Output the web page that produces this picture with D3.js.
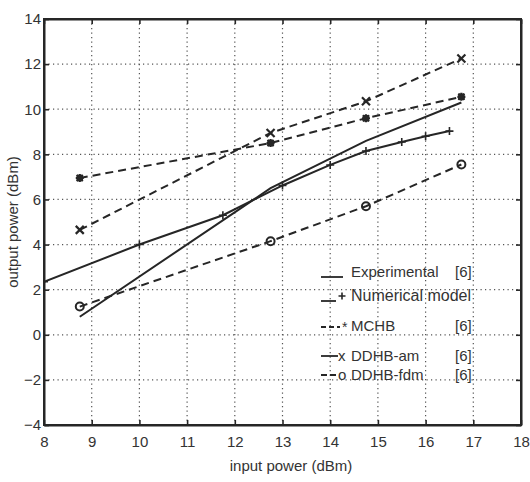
<!DOCTYPE html>
<html>
<head>
<meta charset="utf-8">
<script src="https://cdn.jsdelivr.net/npm/d3@7"></script>
<style>
  html, body { margin: 0; padding: 0; background: #fff; }
  svg { display: block; }
  text { font-family: "Liberation Sans", Arial, Helvetica, sans-serif; fill: #333; }
</style>
</head>
<body>
<svg id="chart" width="530" height="482"></svg>
<script>
// Output power versus input power: measurement, numerical model and three harmonic-balance variants
const xTicks = [8, 9, 10, 11, 12, 13, 14, 15, 16, 17, 18];
const yTicks = [-4, -2, 0, 2, 4, 6, 8, 10, 12, 14];

const experimentalX = [8.75, 12.75, 14.75, 16.75];
const experimentalY = [0.8, 6.5, 8.6, 10.3];

const numericalX = [8, 10, 11.75, 13, 14, 14.75, 15.5, 16, 16.5];
const numericalY = [2.35, 4.0, 5.3, 6.62, 7.53, 8.15, 8.55, 8.8, 9.03];

const harmonicX = [8.75, 12.75, 14.75, 16.75];
const mchbY = [6.95, 8.5, 9.6, 10.55];
const ddhbAmY = [4.65, 8.95, 10.35, 12.25];
const ddhbFdmY = [1.25, 4.15, 5.7, 7.55];

const legendLabels = ["Experimental", "Numerical model", "MCHB", "DDHB-am", "DDHB-fdm"];
const legendRefs = ["[6]", "", "[6]", "[6]", "[6]"];

const svg = d3.select("#chart");
const ink = "#262626";

const x = d3.scaleLinear().domain([8, 18]).range([44, 521]);
const y = d3.scaleLinear().domain([-4, 14]).range([425, 19]);

svg.append("defs").append("clipPath").attr("id", "plotClip")
  .append("rect")
  .attr("x", x(8)).attr("y", y(14))
  .attr("width", x(18) - x(8)).attr("height", y(-4) - y(14));

// dotted grid
const grid = svg.append("g").attr("stroke", "#555").attr("stroke-width", 1.2)
  .attr("stroke-dasharray", "1.2,3.3");
grid.selectAll("line.gx").data(xTicks.slice(1, -1)).join("line")
  .attr("x1", d => x(d)).attr("x2", d => x(d))
  .attr("y1", y(14)).attr("y2", y(-4));
grid.selectAll("line.gy").data(yTicks.slice(1, -1)).join("line")
  .attr("y1", d => y(d)).attr("y2", d => y(d))
  .attr("x1", x(8)).attr("x2", x(18));

// axes with inward ticks on all four sides
const tickLen = 5;
svg.append("g").attr("transform", `translate(0,${y(-4)})`)
  .call(d3.axisBottom(x).tickValues(xTicks).tickSizeInner(-tickLen).tickSizeOuter(0).tickPadding(8))
  .call(g => g.selectAll("text").attr("font-size", 15).attr("dy", "0.9em"));
svg.append("g").attr("transform", `translate(0,${y(14)})`)
  .call(d3.axisTop(x).tickValues(xTicks).tickSizeInner(-tickLen).tickSizeOuter(0).tickFormat(""));
svg.append("g").attr("transform", `translate(${x(8)},0)`)
  .call(d3.axisLeft(y).tickValues(yTicks).tickSizeInner(-tickLen).tickSizeOuter(0).tickPadding(3)
    .tickFormat(d => d < 0 ? "\u2212" + Math.abs(d) : d))
  .call(g => g.selectAll("text").attr("font-size", 15));
svg.append("g").attr("transform", `translate(${x(18)},0)`)
  .call(d3.axisRight(y).tickValues(yTicks).tickSizeInner(-tickLen).tickSizeOuter(0).tickFormat(""));
svg.selectAll(".domain").attr("stroke", ink).attr("stroke-width", 2);
svg.selectAll(".tick line").attr("stroke", ink).attr("stroke-width", 1.6);
svg.selectAll(".tick text").attr("fill", "#333");

// frame
svg.append("rect")
  .attr("x", x(8)).attr("y", y(14))
  .attr("width", x(18) - x(8)).attr("height", y(-4) - y(14))
  .attr("fill", "none").attr("stroke", ink).attr("stroke-width", 2);

// axis titles
svg.append("text").attr("x", 291).attr("y", 471).attr("text-anchor", "middle")
  .attr("font-size", 15).text("input power (dBm)");
svg.append("text").attr("transform", `translate(18,${(y(14) + y(-4)) / 2}) rotate(-90)`)
  .attr("text-anchor", "middle").attr("font-size", 15).text("output power (dBm)");

const plot = svg.append("g").attr("clip-path", "url(#plotClip)");
const line = d3.line().x(d => x(d[0])).y(d => y(d[1]));
const dash = "8,5";

function series(xs, ys, dashed) {
  const pts = xs.map((v, i) => [v, ys[i]]);
  plot.append("path").datum(pts).attr("d", line)
    .attr("fill", "none").attr("stroke", ink).attr("stroke-width", 2)
    .attr("stroke-dasharray", dashed ? dash : null);
  return pts;
}

// markers
function plus(g, cx, cy, r) {
  g.append("path").attr("d", `M${cx - r},${cy}H${cx + r}M${cx},${cy - r}V${cy + r}`)
    .attr("stroke", ink).attr("stroke-width", 1.6);
}
function cross(g, cx, cy, r) {
  g.append("path").attr("d", `M${cx - r},${cy - r}L${cx + r},${cy + r}M${cx - r},${cy + r}L${cx + r},${cy - r}`)
    .attr("stroke", ink).attr("stroke-width", 2.2);
}
function star(g, cx, cy, r) {
  const d = r * 0.75;
  g.append("path").attr("d",
    `M${cx - r},${cy}H${cx + r}M${cx},${cy - r}V${cy + r}M${cx - d},${cy - d}L${cx + d},${cy + d}M${cx - d},${cy + d}L${cx + d},${cy - d}`)
    .attr("stroke", ink).attr("stroke-width", 2.2);
  g.append("rect").attr("x", cx - r * 0.8).attr("y", cy - r * 0.8)
    .attr("width", r * 1.6).attr("height", r * 1.6).attr("fill", ink);
}
function ring(g, cx, cy, r) {
  g.append("circle").attr("cx", cx).attr("cy", cy).attr("r", r)
    .attr("fill", "none").attr("stroke", ink).attr("stroke-width", 2);
}

series(experimentalX, experimentalY, false);
series(numericalX, numericalY, false).forEach(p => plus(plot, x(p[0]), y(p[1]), 4));
series(harmonicX, mchbY, true).forEach(p => star(plot, x(p[0]), y(p[1]), 4));
series(harmonicX, ddhbAmY, true).forEach(p => cross(plot, x(p[0]), y(p[1]), 4));
series(harmonicX, ddhbFdmY, true).forEach(p => ring(plot, x(p[0]), y(p[1]), 4));

// legend
const lg = svg.append("g");
const rows = [277, 301, 331, 361, 380];
const textX = 351;
const refX = 455;

// Experimental: plain line
lg.append("line").attr("x1", 321).attr("x2", 343).attr("y1", rows[0]).attr("y2", rows[0])
  .attr("stroke", ink).attr("stroke-width", 1.8);
// Numerical model: line with +
lg.append("line").attr("x1", 321).attr("x2", 336).attr("y1", rows[1]).attr("y2", rows[1])
  .attr("stroke", ink).attr("stroke-width", 1.8);
plus(lg, 342, rows[1] - 5, 3.5);
// MCHB: dashed with *
lg.append("line").attr("x1", 321).attr("x2", 340).attr("y1", rows[2] - 4).attr("y2", rows[2] - 4)
  .attr("stroke", ink).attr("stroke-width", 1.8).attr("stroke-dasharray", "5,3");
lg.append("text").attr("x", 342).attr("y", rows[2] + 1).attr("font-size", 14).text("*");
// DDHB-am: line with x
lg.append("line").attr("x1", 321).attr("x2", 338).attr("y1", rows[3] - 5).attr("y2", rows[3] - 5)
  .attr("stroke", ink).attr("stroke-width", 1.8);
lg.append("text").attr("x", 338).attr("y", rows[3]).attr("font-size", 15).text("x");
// DDHB-fdm: dashed with o
lg.append("line").attr("x1", 321).attr("x2", 338).attr("y1", rows[4] - 5).attr("y2", rows[4] - 5)
  .attr("stroke", ink).attr("stroke-width", 1.8).attr("stroke-dasharray", "6,3");
lg.append("text").attr("x", 338).attr("y", rows[4]).attr("font-size", 15).text("o");

legendLabels.forEach((t, i) => {
  lg.append("text").attr("x", textX).attr("y", rows[i]).attr("font-size", i === 1 ? 16 : 15).text(t);
  if (legendRefs[i]) {
    lg.append("text").attr("x", refX).attr("y", rows[i]).attr("font-size", 15).text(legendRefs[i]);
  }
});
</script>
</body>
</html>
